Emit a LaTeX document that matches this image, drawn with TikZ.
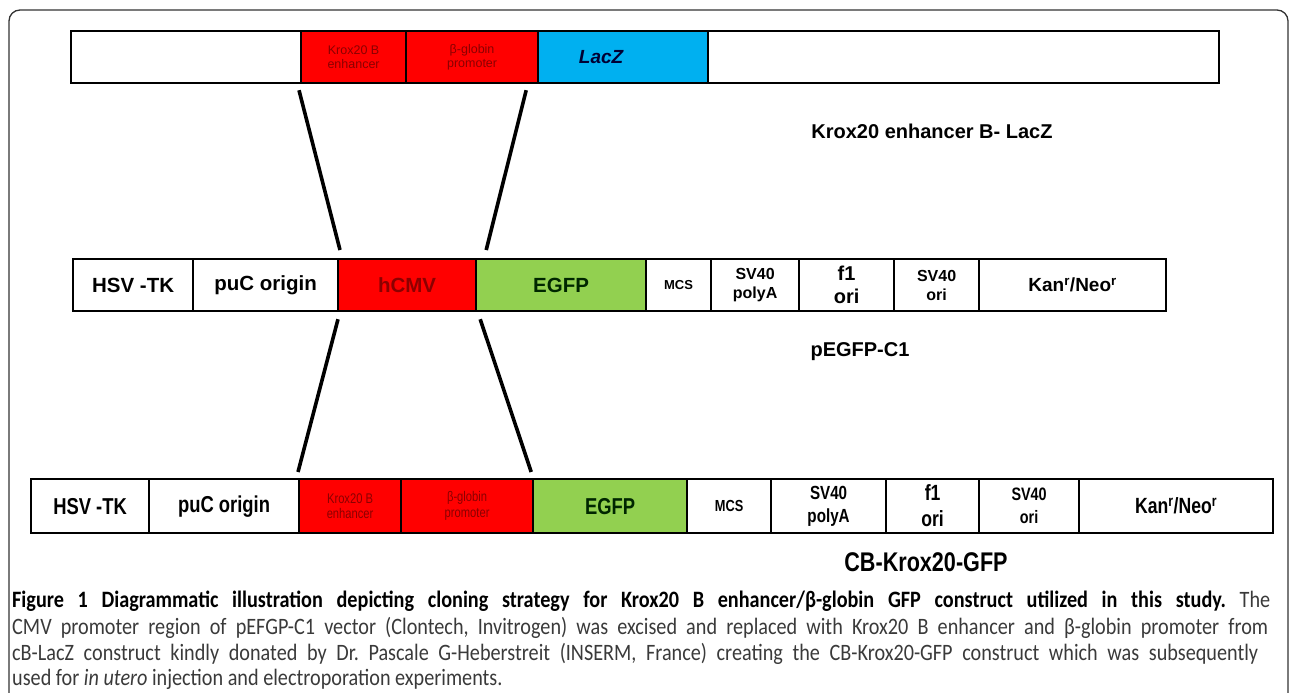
\documentclass[tikz,border=0pt]{standalone}
\usepackage{fontspec}
\setmainfont{Liberation Sans}
\newfontfamily\narrowfont[FakeStretch=0.8]{Liberation Sans}
\newfontfamily\capfont[FakeStretch=0.86]{Carlito}
\usetikzlibrary{calc}
\definecolor{segred}{HTML}{FF0000}
\definecolor{lacblue}{HTML}{00B0F0}
\definecolor{egfpgreen}{HTML}{92D050}
\definecolor{kroxtxt}{HTML}{8A0000}
\definecolor{framegray}{HTML}{333333}
\definecolor{captxt}{HTML}{3A3A3A}
\frenchspacing
\begin{document}
\begin{tikzpicture}[x=1pt,y=-1pt,
  seg/.style={draw=black, line width=2.2pt, inner sep=0pt, anchor=north west,
    align=center, font=\bfseries\fontsize{20.5}{22}\selectfont},
  toprow/.style={seg, minimum height=52pt},
  midrow/.style={seg, minimum height=52pt},
  botrow/.style={seg, minimum height=54pt, font=\narrowfont\bfseries\fontsize{23}{25}\selectfont},
  redseg/.style={fill=segred, text=kroxtxt},
  tiny/.style={font=\fontsize{12.5}{14}\selectfont},
  tinyb/.style={font=\narrowfont\fontsize{14}{15.5}\selectfont},
  link/.style={line width=3.6pt, black},
  title/.style={font=\bfseries\fontsize{20}{22}\selectfont},
  capline/.style={anchor=base west, inner sep=0pt, font=\capfont\fontsize{23.5}{26}\selectfont}
]
\useasboundingbox (0,0) rectangle (1290,693);
\clip (0,0) rectangle (1290,693);
\draw[framegray, line width=1.3pt, rounded corners=11pt] (9,740) -- (9,10) -- (1288,10) -- (1288,740);

% top construct
\node[toprow, minimum width=230pt] (t1) at (70,30) {};
\node[toprow, redseg, tiny, minimum width=105pt] (t2) at (300,30) {Krox20 B\\enhancer};
\node[toprow, redseg, tiny, minimum width=132pt] (t3) at (405,30) {β-globin\\promoter};
\node[toprow, fill=lacblue, minimum width=170pt, font=\bfseries\itshape\fontsize{19}{21}\selectfont, text={black!80!blue}] (t4) at (537,30) {\hspace*{-44pt}LacZ};
\node[toprow, minimum width=511pt] (t5) at (707,30) {};
\node[title] (tl) at (932,131) {Krox20 enhancer B- LacZ};

% middle construct
\node[midrow, minimum width=120pt] (m1) at (72,258) {HSV -TK};
\node[midrow, minimum width=145pt] (m2) at (192,258) {puC origin};
\node[midrow, redseg, text={black!45!red}, minimum width=138pt] (m3) at (337,258) {hCMV};
\node[midrow, fill=egfpgreen, text={black!85!green}, minimum width=170pt] (m4) at (475,258) {EGFP};
\node[midrow, minimum width=65pt, font=\bfseries\fontsize{13}{15}\selectfont] (m5) at (645,258) {MCS};
\node[midrow, minimum width=88pt, font=\bfseries\fontsize{16}{19}\selectfont] (m6) at (710,258) {SV40\\polyA};
\node[midrow, minimum width=95pt, font=\bfseries\fontsize{20}{23}\selectfont] (m7) at (798,258) {f1\\ori};
\node[midrow, minimum width=85pt, font=\bfseries\fontsize{16}{19}\selectfont] (m8) at (893,258) {SV40\\ori};
\node[midrow, minimum width=187pt, font=\bfseries\fontsize{19}{21}\selectfont] (m9) at (978,258) {Kan\textsuperscript{r}/Neo\textsuperscript{r}};
\node[title] (ml) at (860,352) {pEGFP-C1};

% bottom construct
\node[botrow, minimum width=118pt] (b1) at (30,478) {HSV -TK};
\node[botrow, minimum width=150pt] (b2) at (148,478) {puC origin};
\node[botrow, redseg, tinyb, minimum width=102pt] (b3) at (298,478) {Krox20 B\\enhancer};
\node[botrow, redseg, tinyb, minimum width=132pt] (b4) at (400,478) {β-globin\\promoter};
\node[botrow, fill=egfpgreen, text={black!85!green}, minimum width=154pt] (b5) at (532,478) {EGFP};
\node[botrow, minimum width=84pt, font=\narrowfont\bfseries\fontsize{16}{18}\selectfont] (b6) at (686,478) {MCS};
\node[botrow, minimum width=115pt, font=\narrowfont\bfseries\fontsize{19}{23}\selectfont] (b7) at (770,478) {SV40\\polyA};
\node[botrow, minimum width=93pt, font=\narrowfont\bfseries\fontsize{22}{26}\selectfont] (b8) at (885,478) {f1\\ori};
\node[botrow, minimum width=100pt, font=\narrowfont\bfseries\fontsize{18}{23}\selectfont] (b9) at (978,478) {SV40\\ori};
\node[botrow, minimum width=194pt, font=\narrowfont\bfseries\fontsize{22}{24}\selectfont] (b10) at (1078,478) {Kan\textsuperscript{r}/Neo\textsuperscript{r}};
\node[font=\narrowfont\bfseries\fontsize{27}{29}\selectfont] (bl) at (926,562) {CB-Krox20-GFP};

% connectors
\draw[link] ([shift={(-1,6)}]t2.south west) -- ([shift={(3,-8)}]m3.north west);
\draw[link] ([shift={(-13,6)}]t3.south east) -- ([shift={(9,-8)}]m3.north east);
\draw[link] ([shift={(1,7)}]m3.south west) -- ([shift={(0,-6)}]b3.north west);
\draw[link] ([shift={(3,7)}]m3.south east) -- ([shift={(-3,-6)}]b4.north east);

% caption
\node[capline] (c1) at (12,607) {\makebox[1258pt][s]{\textbf{Figure 1 Diagrammatic illustration depicting cloning strategy for Krox20 B enhancer/β-globin GFP construct utilized in this study.} \textcolor{captxt}{The}}};
\node[capline, text=captxt] (c2) at (12,634) {\makebox[1256pt][s]{CMV promoter region of pEFGP-C1 vector (Clontech, Invitrogen) was excised and replaced with Krox20 B enhancer and β-globin promoter from}};
\node[capline, text=captxt] (c3) at (12,660) {\makebox[1246pt][s]{cB-LacZ construct kindly donated by Dr. Pascale G-Heberstreit (INSERM, France) creating the CB-Krox20-GFP construct which was subsequently}};
\node[capline, text=captxt] (c4) at (12,685) {used for \textit{in utero} injection and electroporation experiments.};
\end{tikzpicture}
\end{document}
